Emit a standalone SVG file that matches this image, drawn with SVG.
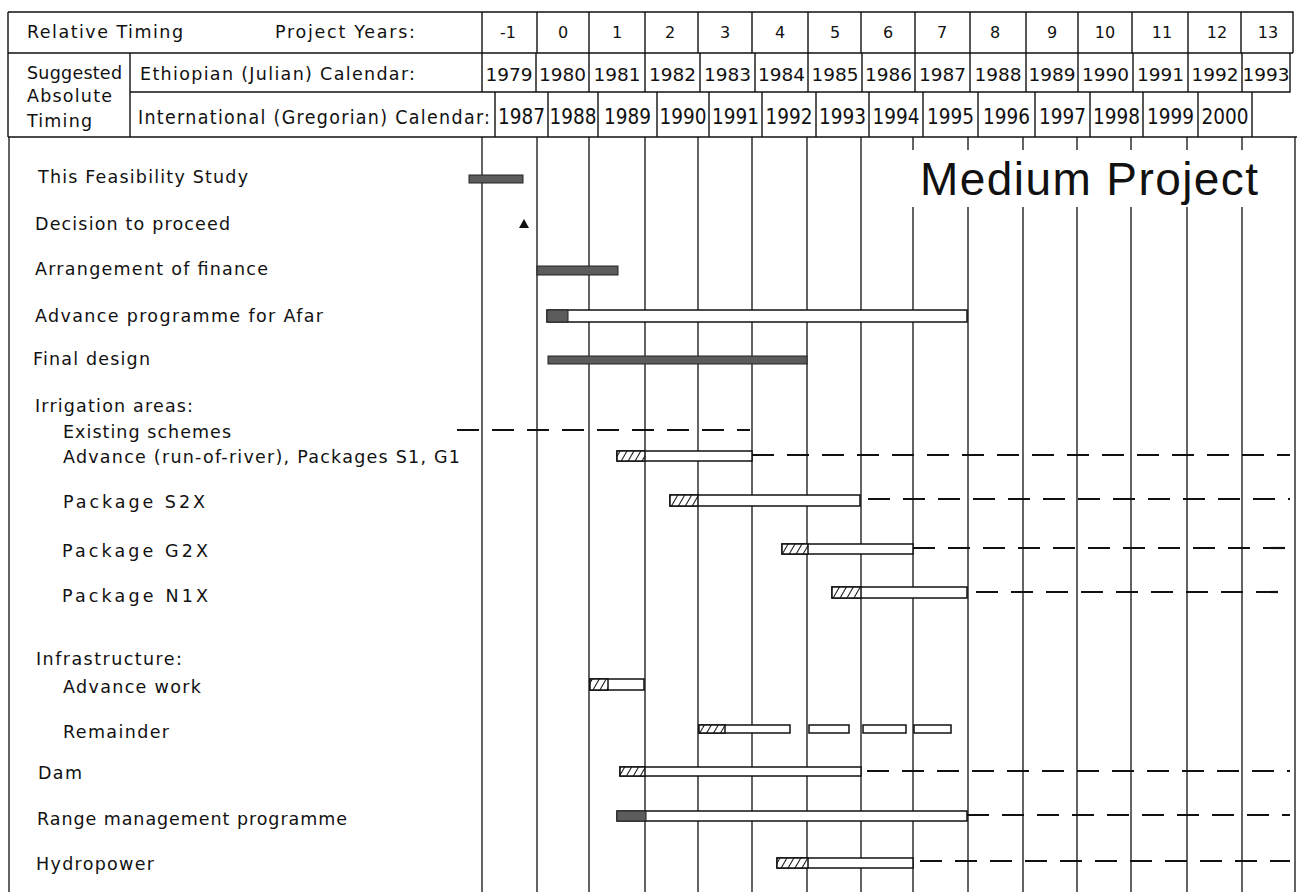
<svg xmlns="http://www.w3.org/2000/svg" width="1297" height="892" viewBox="0 0 1297 892">
<defs>
<pattern id="hatch" patternUnits="userSpaceOnUse" width="6" height="6" patternTransform="rotate(30)">
<rect width="6" height="6" fill="#fff"/>
<line x1="0" y1="0" x2="0" y2="6" stroke="#111" stroke-width="2"/>
</pattern>
</defs>
<style>
.ln{stroke:#111;stroke-width:1.4;fill:none}
.vl{stroke:#111;stroke-width:1.3}
.t{font-family:"DejaVu Sans","Liberation Sans",sans-serif;font-size:17.5px;fill:#111}
.num{font-family:"DejaVu Sans","Liberation Sans",sans-serif;font-size:16px;fill:#111;text-anchor:middle}
.yr{font-family:"DejaVu Sans","Liberation Sans",sans-serif;font-size:18.5px;fill:#111;text-anchor:middle}
.bar{fill:#fff;stroke:#111;stroke-width:1.5}
.hb{fill:url(#hatch);stroke:#111;stroke-width:1.5}
.db{fill:#5c5c5c;stroke:#222;stroke-width:1}
.dash{stroke:#111;stroke-width:2.2;stroke-dasharray:22 13;fill:none}
.title{font-family:"Liberation Sans",Arial,sans-serif;font-size:46px;fill:#111}
</style>
<rect width="1297" height="892" fill="#fff"/>

<g id="header">
<path class="ln" d="M8 12H1293V53M8 12V137M8 53H1293M130 53V137M130 92H1290V53M8 137H1297"/>
<path class="ln" d="M482 12V53M537 12V53M589 12V53M645 12V53M698 12V53M752 12V53M808 12V53M861 12V53M915 12V53M970 12V53M1026 12V53M1078 12V53M1132 12V53M1188 12V53M1241 12V53"/>
<path class="ln" d="M482 53V92M536 53V92M589 53V92M645 53V92M700 53V92M755 53V92M808 53V92M862 53V92M915 53V92M970 53V92M1026 53V92M1078 53V92M1133 53V92M1188 53V92M1242 53V92"/>
<path class="ln" d="M495 92V137M548 92V137M598 92V137M657 92V137M709 92V137M762 92V137M816 92V137M869 92V137M923 92V137M978 92V137M1035 92V137M1090 92V137M1143 92V137M1198 92V137M1252 92V137"/>
<text class="t" x="27" y="38" textLength="156" lengthAdjust="spacing">Relative Timing</text>
<text class="t" x="275" y="38" textLength="140" lengthAdjust="spacing">Project Years:</text>
<text class="t" x="27" y="79" textLength="95" lengthAdjust="spacing">Suggested</text>
<text class="t" x="27" y="102" textLength="85" lengthAdjust="spacing">Absolute</text>
<text class="t" x="27" y="127" textLength="65" lengthAdjust="spacing">Timing</text>
<text class="t" x="140" y="80" textLength="275" lengthAdjust="spacing">Ethiopian (Julian) Calendar:</text>
<g transform="translate(0,124) scale(1,1.1)">
<text class="t" x="138" y="0" textLength="352" lengthAdjust="spacing">International (Gregorian) Calendar:</text>
<text class="yr" y="0"><tspan x="521.5">1987</tspan><tspan x="573">1988</tspan><tspan x="627.5">1989</tspan><tspan x="683">1990</tspan><tspan x="735.5">1991</tspan><tspan x="789">1992</tspan><tspan x="842.5">1993</tspan><tspan x="896">1994</tspan><tspan x="950.5">1995</tspan><tspan x="1006.5">1996</tspan><tspan x="1062.5">1997</tspan><tspan x="1116.5">1998</tspan><tspan x="1170.5">1999</tspan><tspan x="1225">2000</tspan></text>
</g>
<text class="num" y="38"><tspan x="508">-1</tspan><tspan x="563">0</tspan><tspan x="617">1</tspan><tspan x="670">2</tspan><tspan x="725">3</tspan><tspan x="780">4</tspan><tspan x="835">5</tspan><tspan x="888">6</tspan><tspan x="942">7</tspan><tspan x="995">8</tspan><tspan x="1052">9</tspan><tspan x="1105">10</tspan><tspan x="1162">11</tspan><tspan x="1217">12</tspan><tspan x="1268">13</tspan></text>
<text class="yr" y="81"><tspan x="509">1979</tspan><tspan x="562.5">1980</tspan><tspan x="617">1981</tspan><tspan x="672.5">1982</tspan><tspan x="727.5">1983</tspan><tspan x="781.5">1984</tspan><tspan x="835">1985</tspan><tspan x="888.5">1986</tspan><tspan x="942.5">1987</tspan><tspan x="998">1988</tspan><tspan x="1052">1989</tspan><tspan x="1105.5">1990</tspan><tspan x="1160.5">1991</tspan><tspan x="1215">1992</tspan><tspan x="1266">1993</tspan></text>
</g>

<g id="grid">
<path class="vl" d="M9 137V892M1295 137V892M482 137V892M537 137V892M589 137V892M645 137V892M698 137V892M752 137V892M807 137V892M861 137V892M913 137V892M968 137V892M1023 137V892M1077 137V892M1131 137V892M1187 137V892M1242 137V892"/>
</g>

<g id="title">
<rect x="903" y="150" width="388" height="57" fill="#fff"/>
<text class="title" x="920" y="195" textLength="338" lengthAdjust="spacing">Medium Project</text>
</g>

<g id="connectors">
<path class="dash" d="M457 430H750"/>
<path class="dash" d="M752 455H1290"/>
<path class="dash" d="M868 499H1290"/>
<path class="dash" d="M913 548H1290"/>
<path class="dash" d="M976 592H1290"/>
<path class="dash" d="M867 771H1290"/>
<path class="dash" d="M967 815H1290"/>
<path class="dash" d="M920 861H1290"/>
</g>

<g id="feasibility">
<text class="t" x="38" y="183" textLength="210" lengthAdjust="spacing">This Feasibility Study</text>
<rect class="db" x="469" y="175" width="54" height="8"/>
</g>
<g id="decision">
<text class="t" x="35" y="230" textLength="195" lengthAdjust="spacing">Decision to proceed</text>
<path d="M519 228L529 228L524 219Z" fill="#111"/>
</g>
<g id="finance">
<text class="t" x="35" y="275" textLength="233" lengthAdjust="spacing">Arrangement of finance</text>
<rect class="db" x="537" y="266" width="81" height="9"/>
</g>
<g id="afar">
<text class="t" x="35" y="322" textLength="288" lengthAdjust="spacing">Advance programme for Afar</text>
<rect class="bar" x="547" y="310" width="420" height="12"/>
<rect class="db" x="547" y="310" width="21" height="12"/>
</g>
<g id="final-design">
<text class="t" x="33" y="365" textLength="117" lengthAdjust="spacing">Final design</text>
<rect class="db" x="548" y="356" width="259" height="8"/>
</g>
<g id="irrigation">
<text class="t" x="35" y="412" textLength="158" lengthAdjust="spacing">Irrigation areas:</text>
</g>
<g id="existing">
<text class="t" x="63" y="438" textLength="168" lengthAdjust="spacing">Existing schemes</text>
</g>
<g id="advance-s1g1">
<text class="t" x="63" y="463" textLength="397" lengthAdjust="spacing">Advance (run-of-river), Packages S1, G1</text>
<rect class="bar" x="617" y="451" width="135" height="10"/>
<rect class="hb" x="617" y="451" width="28" height="10"/>
</g>
<g id="s2x">
<text class="t" x="63" y="508" textLength="142" lengthAdjust="spacing">Package   S2X</text>
<rect class="bar" x="670" y="495" width="190" height="11"/>
<rect class="hb" x="670" y="495" width="28" height="11"/>
</g>
<g id="g2x">
<text class="t" x="62" y="557" textLength="146" lengthAdjust="spacing">Package   G2X</text>
<rect class="bar" x="782" y="544" width="131" height="10"/>
<rect class="hb" x="782" y="544" width="26" height="10"/>
</g>
<g id="n1x">
<text class="t" x="62" y="602" textLength="146" lengthAdjust="spacing">Package   N1X</text>
<rect class="bar" x="832" y="587" width="135" height="11"/>
<rect class="hb" x="832" y="587" width="29" height="11"/>
</g>
<g id="infrastructure">
<text class="t" x="36" y="665" textLength="146" lengthAdjust="spacing">Infrastructure:</text>
</g>
<g id="advance-work">
<text class="t" x="63" y="693" textLength="138" lengthAdjust="spacing">Advance work</text>
<rect class="bar" x="590" y="679" width="54" height="11"/>
<rect class="hb" x="590" y="679" width="18" height="11"/>
</g>
<g id="remainder">
<text class="t" x="63" y="738" textLength="106" lengthAdjust="spacing">Remainder</text>
<rect class="bar" x="699" y="725" width="91" height="8"/>
<rect class="hb" x="699" y="725" width="26" height="8"/>
<rect class="bar" x="809" y="725" width="40" height="8"/>
<rect class="bar" x="863" y="725" width="43" height="8"/>
<rect class="bar" x="914" y="725" width="37" height="8"/>
</g>
<g id="dam">
<text class="t" x="38" y="779" textLength="44" lengthAdjust="spacing">Dam</text>
<rect class="bar" x="620" y="767" width="241" height="9"/>
<rect class="hb" x="620" y="767" width="25" height="9"/>
</g>
<g id="range">
<text class="t" x="37" y="825" textLength="310" lengthAdjust="spacing">Range management programme</text>
<rect class="bar" x="617" y="811" width="350" height="10"/>
<rect class="db" x="617" y="811" width="29" height="10"/>
</g>
<g id="hydropower">
<text class="t" x="36" y="870" textLength="118" lengthAdjust="spacing">Hydropower</text>
<rect class="bar" x="777" y="858" width="136" height="10"/>
<rect class="hb" x="777" y="858" width="31" height="10"/>
</g>
</svg>
